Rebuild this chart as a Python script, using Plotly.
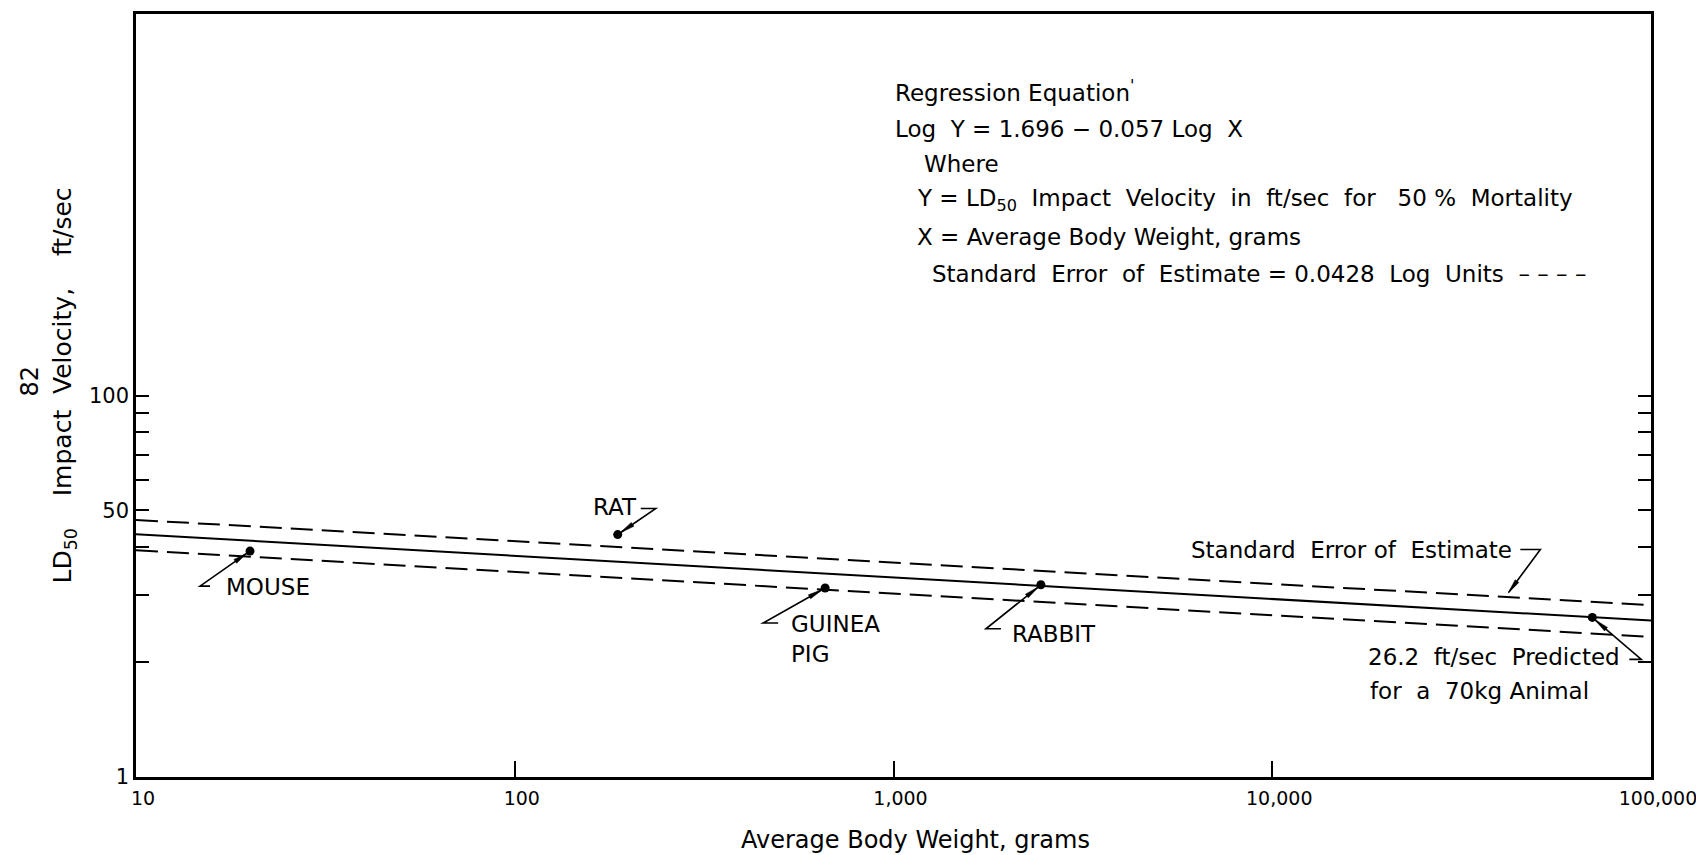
import math
import plotly.graph_objects as go

# ---------------- data ----------------
animals = ["MOUSE", "RAT", "GUINEA<br>PIG", "RABBIT"]
body_weight_g = [20, 187, 660, 2450]
ld50_velocity = [39.1, 43.2, 31.3, 31.9]

predicted_weight_g = [70000]
predicted_velocity = [26.2]

fit_x = [10, 100000]
fit_y = [43.3, 25.7]
upper_y = [47.2, 28.2]
lower_y = [39.3, 23.3]

se_pointer_x = 41500
se_pointer_y = 29.9

x_tick_vals = [10, 100, 1000, 10000, 100000]
x_tick_text = ["10", "100", "1,000", "10,000", "100,000"]
y_tick_vals = [10, 50, 100]
y_tick_text = ["1", "50", "100"]
y_minor_vals = [20, 30, 40, 60, 70, 80, 90]

NB = "\u00a0"
equation_lines = [
    "Regression Equation<sup>'</sup>",
    f"Log{NB}{NB}Y = 1.696 \u2212 0.057 Log{NB}{NB}X",
    "Where",
    f"Y = LD<sub>50</sub>{NB}{NB}Impact{NB}{NB}Velocity{NB}{NB}in{NB}{NB}ft/sec{NB}{NB}for{NB}{NB}{NB}50 %{NB}{NB}Mortality",
    "X = Average Body Weight, grams",
    f"Standard{NB}{NB}Error{NB}{NB}of{NB}{NB}Estimate = 0.0428{NB}{NB}Log{NB}{NB}Units{NB}{NB}\u2013 \u2013 \u2013 \u2013",
]

# ---------------- figure ----------------
FONT = "DejaVu Sans"
# page body has an 8px margin: the plot area lands at screen x 136..1651, y 11..777
W, H = 1696, 847
ML, MR, MT, MB = 128, 53, 3, 78
SX0, SX1, SY0, SY1 = 136, 1651, 11, 777

fig = go.Figure()
fig.add_trace(go.Scatter(x=fit_x, y=fit_y, mode="lines",
                         line=dict(color="black", width=2), hoverinfo="skip"))
for ys in (upper_y, lower_y):
    fig.add_trace(go.Scatter(x=fit_x, y=ys, mode="lines",
                             line=dict(color="black", width=2, dash="22px,9px"),
                             hoverinfo="skip"))
fig.add_trace(go.Scatter(x=body_weight_g, y=ld50_velocity, mode="markers",
                         marker=dict(color="black", size=9)))
fig.add_trace(go.Scatter(x=predicted_weight_g, y=predicted_velocity, mode="markers",
                         marker=dict(color="black", size=9)))

ann = []
shapes = []


def s2paper(sx, sy):
    return (sx - SX0) / (SX1 - SX0), (SY1 - sy) / (SY1 - SY0)


def leader(x, y, tx, ty, stub):
    """Leader from point (x, y) to tail at screen offset (tx, ty), then a horizontal stub."""
    n = math.hypot(tx, ty)
    ux, uy = tx / n, ty / n
    path = (f"M {tx + stub:.1f},{-ty:.1f} L {tx:.1f},{-ty:.1f} "
            f"L {ux * 4:.1f},{-uy * 4:.1f}")
    shapes.append(dict(type="path", xref="x", yref="y", xsizemode="pixel",
                       ysizemode="pixel", xanchor=x, yanchor=y, path=path,
                       line=dict(color="black", width=1.6)))
    px, py = -uy, ux
    a = (ux * 3, uy * 3)
    b = (ux * 18 + px * 2.3, uy * 18 + py * 2.3)
    c = (ux * 18 - px * 2.3, uy * 18 - py * 2.3)
    head = (f"M {a[0]:.1f},{-a[1]:.1f} L {b[0]:.1f},{-b[1]:.1f} "
            f"L {c[0]:.1f},{-c[1]:.1f} Z")
    shapes.append(dict(type="path", xref="x", yref="y", xsizemode="pixel",
                       ysizemode="pixel", xanchor=x, yanchor=y, path=head,
                       fillcolor="black", line=dict(color="black", width=0.5)))


def label(x, y, text, dx, dy, anchor, size=23):
    ann.append(dict(x=math.log10(x), y=math.log10(y), text=text, showarrow=False,
                    xshift=dx, yshift=-dy, xanchor=anchor, yanchor="middle",
                    font=dict(family=FONT, size=size, color="black"), align="left"))


# leader geometry (screen-pixel offsets from each point)
leader_geom = [(-50, 35, 10), (38, -26, -15), (-62, 35, 15), (-55, 44, 15)]
label_geom = [(-26, 36, "left"), (21, -28, "right"), (-36, 51, "left"), (-31, 49, "left")]
for i, name in enumerate(animals):
    tx, ty, st = leader_geom[i]
    leader(body_weight_g[i], ld50_velocity[i], tx, ty, st)
    dx, dy, an = label_geom[i]
    label(body_weight_g[i], ld50_velocity[i], name, dx, dy, an)

# standard error pointer
leader(se_pointer_x, se_pointer_y, 34, -46, -20)
label(se_pointer_x, se_pointer_y, f"Standard{NB}{NB}Error{NB}of{NB}{NB}Estimate",
      8, -46, "right")

# predicted 70 kg
leader(predicted_weight_g[0], predicted_velocity[0], 49, 42, -12)
label(predicted_weight_g[0], predicted_velocity[0],
      f"26.2{NB}{NB}ft/sec{NB}{NB}Predicted", -226, 40, "left")
label(predicted_weight_g[0], predicted_velocity[0],
      f"for{NB}{NB}a{NB}{NB}70kg Animal", -224, 74, "left")

# equation block
eq_pos = [(893, 88), (893, 126), (922, 162), (915, 198), (915, 235), (930, 272)]
for txt, (sx, sy) in zip(equation_lines, eq_pos):
    xp, yp = s2paper(sx, sy)
    ann.append(dict(xref="paper", yref="paper", x=xp, y=yp, text=txt, showarrow=False,
                    xanchor="left", yanchor="middle",
                    font=dict(family=FONT, size=23, color="black")))

# axis titles and page number
xp, yp = s2paper(915, 840)
ann.append(dict(xref="paper", yref="paper", x=xp, y=yp, showarrow=False,
                text="Average Body Weight, grams", xanchor="center", yanchor="middle",
                font=dict(family=FONT, size=24, color="black")))
N4 = NB * 4
xp, yp = s2paper(64, 384)
ann.append(dict(xref="paper", yref="paper", x=xp, y=yp, showarrow=False, textangle=-90,
                text=f"LD<sub>50</sub>{N4}Impact{NB}{NB}Velocity,{N4}ft/sec",
                xanchor="center", yanchor="middle",
                font=dict(family=FONT, size=25, color="black")))
xp, yp = s2paper(30, 380)
ann.append(dict(xref="paper", yref="paper", x=xp, y=yp, showarrow=False, textangle=-90,
                text="82", xanchor="center", yanchor="middle",
                font=dict(family=FONT, size=24, color="black")))

fig.update_layout(
    width=W, height=H, autosize=False,
    margin=dict(l=ML, r=MR, t=MT, b=MB, pad=0),
    paper_bgcolor="white", plot_bgcolor="white",
    showlegend=False,
    font=dict(family=FONT, size=20, color="black"),
    annotations=ann,
    shapes=shapes,
)
fig.update_xaxes(type="log", range=[1, 5], tickvals=x_tick_vals, ticktext=x_tick_text,
                 ticks="inside", ticklen=16, tickwidth=1.6, tickcolor="black",
                 showline=True, linecolor="black", linewidth=2.5, mirror=True,
                 showgrid=False, zeroline=False, ticklabelstandoff=2, ticklabelshift=7,
                 tickfont=dict(family=FONT, size=19, color="black"))
fig.update_yaxes(type="log", range=[1, 3], tickvals=y_tick_vals, ticktext=y_tick_text,
                 ticks="inside", ticklen=13, tickwidth=1.6, tickcolor="black",
                 minor=dict(tickvals=y_minor_vals, ticks="inside", ticklen=13,
                            tickwidth=1.6, tickcolor="black", showgrid=False),
                 showline=True, linecolor="black", linewidth=2.5, mirror="ticks",
                 showgrid=False, zeroline=False, ticklabelstandoff=0,
                 tickfont=dict(family=FONT, size=21, color="black"))

fig.write_html("out.html")
